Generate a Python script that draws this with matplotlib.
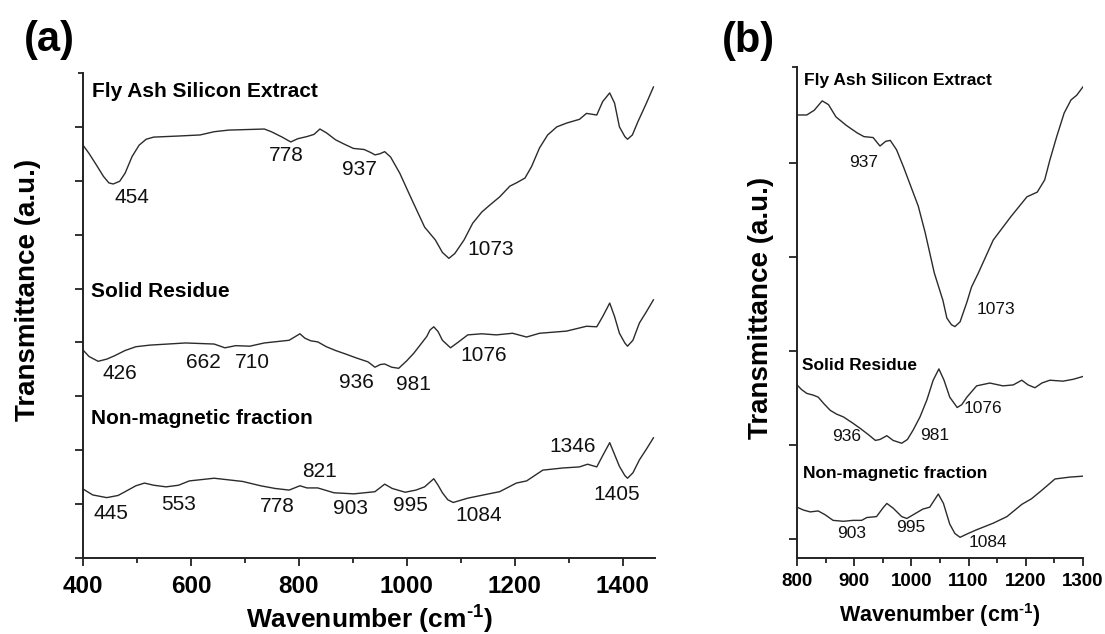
import numpy as np
import matplotlib.pyplot as plt

plt.rcParams['font.family'] = ['Liberation Sans', 'DejaVu Sans']
plt.rcParams['mathtext.fontset'] = 'custom'
plt.rcParams['mathtext.rm'] = 'Liberation Sans:bold'
plt.rcParams['mathtext.bf'] = 'Liberation Sans:bold'

# ---- panel (a) spectra, 400-1460 cm-1 (offset a.u.) ----
fase_a_x = [400, 411, 425, 438, 448, 456, 468, 478, 491, 504, 517, 531, 577, 617, 643, 670,
            736, 749, 769, 785, 798, 815, 828, 839, 851, 868, 884, 901, 921, 934, 941, 950,
            959, 970, 987, 1007, 1033, 1053, 1066, 1078, 1089, 1106, 1122, 1139, 1154, 1172,
            1191, 1203, 1219, 1231, 1246, 1261, 1278, 1296, 1320, 1333, 1352, 1363, 1376,
            1385, 1394, 1404, 1409, 1418, 1428, 1444, 1457]
fase_a_y = [7.66, 7.51, 7.29, 7.08, 6.96, 6.94, 6.99, 7.14, 7.45, 7.66, 7.77, 7.81, 7.83, 7.85,
            7.91, 7.94, 7.96, 7.91, 7.81, 7.72, 7.78, 7.82, 7.86, 7.96, 7.89, 7.76, 7.68, 7.60,
            7.58, 7.52, 7.48, 7.50, 7.54, 7.44, 7.14, 6.70, 6.14, 5.90, 5.67, 5.56, 5.65, 5.90,
            6.21, 6.42, 6.55, 6.70, 6.90, 6.96, 7.05, 7.26, 7.61, 7.85, 8.00, 8.07, 8.14, 8.25,
            8.22, 8.47, 8.63, 8.44, 8.00, 7.82, 7.77, 7.85, 8.09, 8.44, 8.74]

sr_a_x = [400, 411, 428, 444, 458, 478, 498, 524, 590, 643, 663, 683, 709, 736, 782, 792, 802,
          811, 822, 835, 851, 868, 888, 907, 928, 941, 951, 959, 972, 985, 1000, 1013, 1037,
          1043, 1050, 1058, 1066, 1081, 1096, 1113, 1139, 1166, 1196, 1222, 1246, 1296, 1333,
          1352, 1363, 1376, 1385, 1394, 1404, 1409, 1419, 1431, 1444, 1457]
sr_a_y = [3.86, 3.74, 3.65, 3.69, 3.75, 3.85, 3.92, 3.95, 3.99, 3.97, 3.90, 3.94, 3.93, 3.99,
          4.04, 4.10, 4.16, 4.08, 4.03, 4.01, 3.92, 3.85, 3.78, 3.71, 3.64, 3.54, 3.59, 3.60,
          3.54, 3.52, 3.66, 3.80, 4.11, 4.23, 4.29, 4.20, 4.04, 3.90, 4.01, 4.14, 4.16, 4.14,
          4.17, 4.10, 4.17, 4.21, 4.30, 4.29, 4.48, 4.73, 4.48, 4.17, 3.99, 3.93, 4.04, 4.36,
          4.57, 4.79]

nm_a_x = [400, 418, 444, 465, 478, 498, 514, 531, 554, 577, 597, 643, 696, 729, 756, 782, 802,
          815, 835, 865, 902, 941, 959, 973, 997, 1017, 1033, 1050, 1058, 1066, 1076, 1086,
          1113, 1152, 1172, 1203, 1222, 1252, 1289, 1320, 1335, 1352, 1363, 1376, 1385, 1394,
          1404, 1409, 1419, 1431, 1444, 1457]
nm_a_y = [1.28, 1.17, 1.12, 1.16, 1.23, 1.34, 1.39, 1.35, 1.32, 1.35, 1.43, 1.48, 1.42, 1.34,
          1.29, 1.26, 1.34, 1.30, 1.30, 1.21, 1.19, 1.23, 1.37, 1.29, 1.22, 1.26, 1.32, 1.47,
          1.35, 1.21, 1.08, 1.03, 1.11, 1.19, 1.23, 1.39, 1.43, 1.63, 1.67, 1.69, 1.74, 1.69,
          1.90, 2.14, 1.92, 1.70, 1.53, 1.48, 1.58, 1.82, 2.02, 2.23]

# ---- panel (b) spectra, 800-1300 cm-1 ----
fase_b_x = [800, 817, 830, 844, 855, 868, 886, 905, 917, 933, 945, 955, 963, 974, 986, 999,
            1012, 1024, 1040, 1055, 1062, 1070, 1076, 1085, 1097, 1105, 1117, 1143, 1174,
            1202, 1220, 1233, 1242, 1254, 1267, 1279, 1289, 1300]
fase_b_y = [4.51, 4.51, 4.56, 4.66, 4.62, 4.49, 4.40, 4.32, 4.28, 4.27, 4.18, 4.23, 4.24, 4.14,
            3.96, 3.75, 3.54, 3.26, 2.83, 2.54, 2.35, 2.28, 2.26, 2.31, 2.52, 2.68, 2.83, 3.18,
            3.43, 3.64, 3.69, 3.82, 4.03, 4.28, 4.53, 4.67, 4.72, 4.81]

sr_b_x = [800, 808, 817, 829, 837, 847, 858, 869, 881, 896, 910, 925, 937, 945, 957, 968, 983,
          993, 1003, 1015, 1027, 1038, 1048, 1057, 1067, 1080, 1088, 1097, 1114, 1137, 1160,
          1178, 1193, 1204, 1216, 1228, 1242, 1265, 1283, 1300]
sr_b_y = [1.64, 1.59, 1.55, 1.53, 1.51, 1.44, 1.37, 1.33, 1.30, 1.24, 1.18, 1.11, 1.05, 1.06,
          1.10, 1.05, 1.02, 1.06, 1.16, 1.30, 1.48, 1.69, 1.81, 1.69, 1.51, 1.40, 1.43, 1.51,
          1.63, 1.66, 1.63, 1.64, 1.69, 1.64, 1.61, 1.66, 1.69, 1.68, 1.70, 1.73]

nm_b_x = [800, 811, 823, 837, 849, 863, 881, 898, 913, 922, 939, 950, 957, 968, 983, 992, 1006,
          1020, 1032, 1047, 1056, 1067, 1076, 1085, 1099, 1114, 1143, 1167, 1193, 1210, 1228,
          1251, 1277, 1300]
nm_b_y = [0.34, 0.31, 0.29, 0.30, 0.26, 0.20, 0.19, 0.20, 0.20, 0.23, 0.24, 0.33, 0.38, 0.33,
          0.24, 0.22, 0.27, 0.32, 0.34, 0.48, 0.38, 0.16, 0.06, 0.02, 0.06, 0.10, 0.17, 0.24,
          0.37, 0.43, 0.52, 0.64, 0.66, 0.67]

# series names and peak labels (text, x, y)
names = ['Fly Ash Silicon Extract', 'Solid Residue', 'Non-magnetic fraction']
peaks_a = [('454', 491, 6.68), ('778', 776, 7.46), ('937', 913, 7.20), ('1073', 1156, 5.73),
           ('426', 468, 3.43), ('662', 623, 3.62), ('710', 714, 3.62), ('936', 907, 3.25),
           ('981', 1012, 3.21), ('1076', 1142, 3.75),
           ('445', 452, 0.82), ('553', 577, 1.00), ('778', 761, 0.95), ('821', 839, 1.60),
           ('903', 896, 0.91), ('995', 1007, 0.98), ('1084', 1134, 0.78), ('1346', 1307, 2.06),
           ('1405', 1389, 1.17)]
peaks_b = [('937', 917, 4.01), ('1073', 1148, 2.44), ('936', 887, 1.09), ('981', 1040, 1.10),
           ('1076', 1125, 1.39), ('903', 896, 0.06), ('995', 998, 0.12), ('1084', 1134, -0.04)]

LW = 1.0
LINE_COLOR = '#2b2b2b'
fig = plt.figure(figsize=(11.05, 6.34), dpi=100)
ax1 = fig.add_axes([0.0751, 0.1199, 0.5177, 0.765])
ax2 = fig.add_axes([0.7213, 0.1199, 0.2588, 0.7744])

def style_axis(ax):
    for s in ['top', 'right']:
        ax.spines[s].set_visible(False)
    for s in ['left', 'bottom']:
        ax.spines[s].set_linewidth(1.4)
        ax.spines[s].set_color('#222222')
    ax.tick_params(which='major', direction='out', length=6, width=1.3, color='#222222')
    ax.tick_params(which='minor', direction='out', length=3.5, width=1.3, color='#222222')
    ax.tick_params(axis='y', labelleft=False)

# panel (a)
for xs, ys in [(fase_a_x, fase_a_y), (sr_a_x, sr_a_y), (nm_a_x, nm_a_y)]:
    ax1.plot(xs, ys, color=LINE_COLOR, lw=LW)
ax1.set_xlim(400, 1460)
ax1.set_ylim(0, 9)
style_axis(ax1)
xt_a = [400, 600, 800, 1000, 1200, 1400]
ax1.set_xticks(xt_a, labels=[str(v) for v in xt_a], fontsize=17.5, fontweight='bold')
ax1.set_xticks(np.arange(500, 1460, 200), minor=True)
ax1.set_yticks(range(0, 9))
ax1.set_yticks([9], minor=True)
ax1.tick_params(axis='x', pad=6)
ax1.text(417, 8.65, names[0], fontsize=15, fontweight='bold', va='center')
ax1.text(415, 4.94, names[1], fontsize=15, fontweight='bold', va='center')
ax1.text(415, 2.58, names[2], fontsize=15, fontweight='bold', va='center')
for t, x, y in peaks_a:
    ax1.text(x, y, t, fontsize=15, ha='center', va='center', color='#111111')
ax1.set_xlabel(r'Wavenumber (cm$^{\text{-1}}$)', fontsize=19, fontweight='bold', labelpad=3)
ax1.set_ylabel('Transmittance (a.u.)', fontsize=20, fontweight='bold')
ax1.yaxis.set_label_coords(-0.073, 0.553)

# panel (b)
for xs, ys in [(fase_b_x, fase_b_y), (sr_b_x, sr_b_y), (nm_b_x, nm_b_y)]:
    ax2.plot(xs, ys, color=LINE_COLOR, lw=LW)
ax2.set_xlim(800, 1300)
ax2.set_ylim(-0.2, 5.02)
style_axis(ax2)
xt_b = list(range(800, 1301, 100))
ax2.set_xticks(xt_b, labels=[str(v) for v in xt_b], fontsize=13.5, fontweight='bold')
ax2.set_xticks(range(850, 1300, 100), minor=True)
ax2.set_yticks(range(0, 5))
ax2.set_yticks([5.02], minor=True)
ax2.tick_params(axis='x', pad=5)
ax2.text(812, 4.88, names[0], fontsize=12.5, fontweight='bold', va='center')
ax2.text(809, 1.85, names[1], fontsize=12.5, fontweight='bold', va='center')
ax2.text(810, 0.70, names[2], fontsize=12.5, fontweight='bold', va='center')
for t, x, y in peaks_b:
    ax2.text(x, y, t, fontsize=12.5, ha='center', va='center', color='#111111')
ax2.set_xlabel(r'Wavenumber (cm$^{\text{-1}}$)', fontsize=15.5, fontweight='bold', labelpad=8)
ax2.set_ylabel('Transmittance (a.u.)', fontsize=20, fontweight='bold')
ax2.yaxis.set_label_coords(-0.08, 0.509)

fig.text(49 / 1105, 1 - 40 / 634, '(a)', fontsize=30, fontweight='bold', ha='center', va='center')
fig.text(748 / 1105, 1 - 41 / 634, '(b)', fontsize=30, fontweight='bold', ha='center', va='center')

fig.savefig('out.png', dpi=100)
